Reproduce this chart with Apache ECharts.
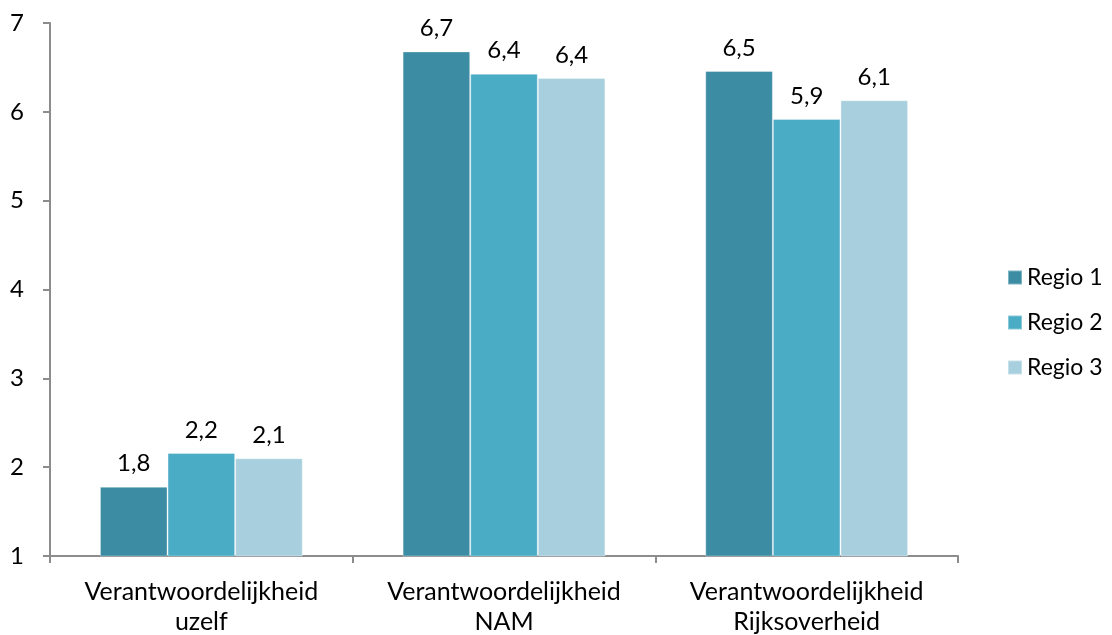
<!DOCTYPE html>
<html><head><meta charset="utf-8">
<script src="https://cdn.jsdelivr.net/npm/echarts@6/dist/echarts.min.js"></script>
<style>html,body{margin:0;padding:0;background:#fff}#c{width:1112px;height:635px}</style>
</head><body><div id="c"></div>
<script>
const categories = ["Verantwoordelijkheid\nuzelf", "Verantwoordelijkheid\nNAM", "Verantwoordelijkheid\nRijksoverheid"];
const seriesNames = ["Regio 1", "Regio 2", "Regio 3"];
const regio1 = [1.78, 6.68, 6.46];
const regio2 = [2.16, 6.43, 5.92];
const regio3 = [2.10, 6.38, 6.13];
const colors = ["#3C8CA3", "#4BACC6", "#A8CFDD"];
const yTicks = [1, 2, 3, 4, 5, 6, 7];

const font = "Lato, sans-serif";
const values = [regio1, regio2, regio3];
const chart = echarts.init(document.getElementById('c'), null, {renderer: 'canvas'});
chart.setOption({
  animation: false,
  textStyle: {fontFamily: font},
  grid: {left: 50, right: 154, top: 23, bottom: 79, containLabel: false, outerBoundsMode: 'none'},
  legend: {
    orient: 'vertical', left: 1002, top: 261,
    itemWidth: 14, itemHeight: 14, itemGap: 22,
    icon: 'rect',
    textStyle: {fontSize: 23, color: '#000', fontFamily: font},
    data: seriesNames
  },
  xAxis: {
    type: 'category', data: categories,
    axisLine: {lineStyle: {color: '#8c8c8c', width: 2}},
    axisTick: {show: true, length: 7, alignWithLabel: false, lineStyle: {color: '#8c8c8c', width: 2}},
    axisLabel: {interval: 0, hideOverlap: false, fontSize: 25, color: '#000', margin: 21, lineHeight: 30, fontFamily: font}
  },
  yAxis: {
    type: 'value', min: yTicks[0], max: yTicks[yTicks.length - 1], interval: 1,
    axisLine: {show: true, lineStyle: {color: '#8c8c8c', width: 2}},
    axisTick: {show: true, length: 7, lineStyle: {color: '#8c8c8c', width: 2}},
    splitLine: {show: false},
    axisLabel: {fontSize: 24, color: '#000', margin: 26, fontFamily: font}
  },
  series: seriesNames.map((n, i) => ({
    name: n, type: 'bar', data: values[i],
    barGap: '0%', barCategoryGap: '33%',
    itemStyle: {color: colors[i], borderColor: 'rgba(255,255,255,0.35)', borderWidth: 1},
    label: {show: true, position: 'top', distance: 11, fontSize: 24, color: '#000', fontFamily: font,
      formatter: p => p.value.toFixed(1).replace('.', ',')}
  }))
});
</script></body></html>
